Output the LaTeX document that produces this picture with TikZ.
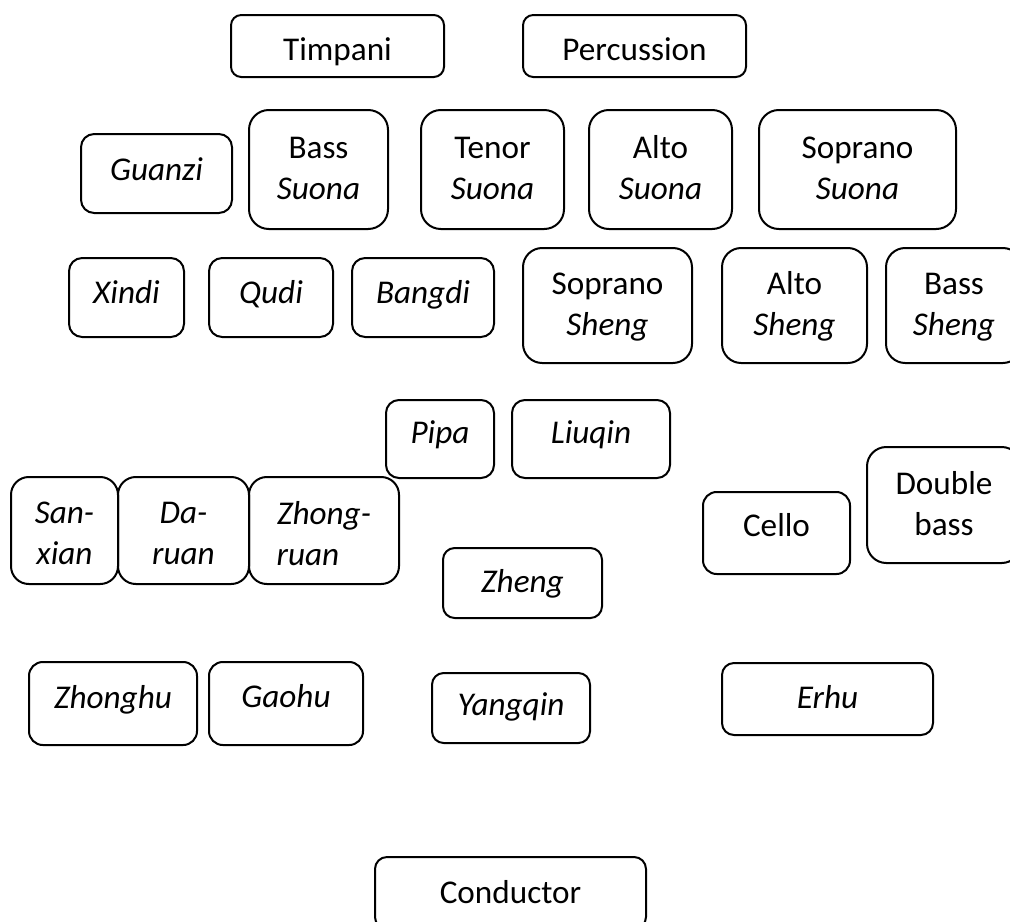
\documentclass[tikz,border=0pt]{standalone}
\usepackage{fontspec}
\setmainfont{Carlito}
\begin{document}
\begin{tikzpicture}[x=0.5pt,y=-0.5pt,
    instr/.style={draw,line width=1pt,inner sep=0pt,align=center,
      font=\fontsize{16.6}{20.5}\selectfont}]
      \def \Boxes{
        timp/337.5/46/213/62/14/{Timpani},
        perc/634.5/46/223/62/14/{Percussion},
        guan/156.5/173.5/151/79/6.5/{\textit{Guanzi}},
        bsuo/318.5/169.5/139/119/9/{Bass\\\textit{Suona}},
        tsuo/492.5/169.5/143/119/9/{Tenor\\\textit{Suona}},
        asuo/660.5/169.5/143/119/9/{Alto\\\textit{Suona}},
        ssuo/857.5/169.5/197/119/9/{Soprano\\\textit{Suona}},
        xind/126.5/297.5/115/79/5.5/{\textit{Xindi}},
        qudi/271/297.5/124/79/5.5/{\textit{Qudi}},
        bang/423/297.5/142/79/5.5/{\textit{Bangdi}},
        ssh/607.5/305.5/169/115/9.5/{Soprano\\\textit{Sheng}},
        ash/794.5/305.5/145/115/9.5/{Alto\\\textit{Sheng}},
        bsh/954/305.5/136/115/9.5/{Bass\\\textit{Sheng}},
        pipa/440/439/108/78/4/{\textit{Pipa}},
        liu/591/439/158/78/4/{\textit{Liuqin}},
        sanx/64.5/530.5/107/107/13.5/{\textit{San-}\\\textit{xian}},
        daru/183.5/530.5/131/107/13.5/{\textit{Da-}\\\textit{ruan}},
        zhru/324/530.5/150/107/14.5/{\textit{Zhong-}\\\textit{ruan}\hspace*{16pt}},
        cello/776.5/533/147/82/3/{Cello},
        dbass/944/505/154/116/9.5/{Double\\bass},
        zheng/522.5/583/159/70/9/{\textit{Zheng}},
        zhhu/113/703.5/168/83/4.5/{\textit{Zhonghu}},
        gaohu/286/703.5/154/83/4/{\textit{Gaohu}},
        yang/511/708/158/70/7/{\textit{Yangqin}},
        erhu/827.5/699/211/72/9/{\textit{Erhu}},
        cond/510.5/893/271/72/10/{Conductor}}
      \useasboundingbox (0,0) rectangle (1010,921);
      \clip (0,0) rectangle (1010,921);
      \foreach \id / \x / \y / \w / \h / \off / \lb in \Boxes{
        \pgfmathsetmacro\rad{min(\w,\h)/12}
        \pgfmathsetmacro\sth{\off+16}
        \node[instr,minimum width=\w*0.5pt,minimum height=\h*0.5pt,
          rounded corners=\rad pt] (\id) at (\x, \y)
          {\rule[-8pt]{0pt}{\sth pt}\lb\rule[-8pt]{0pt}{8pt}};
      }
\end{tikzpicture}
\end{document}
